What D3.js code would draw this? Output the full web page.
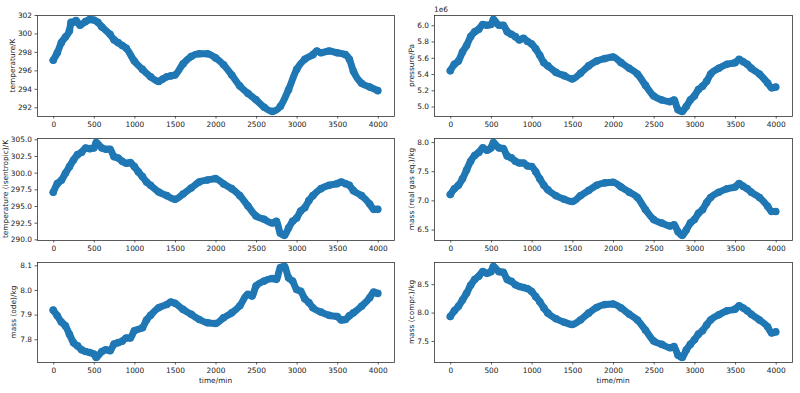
<!DOCTYPE html>
<html>
<head>
<meta charset="utf-8">
<script src="https://cdn.jsdelivr.net/npm/d3@7"></script>
<style>
  body { margin: 0; background: #fff; }
  svg { display: block; font-family: "DejaVu Sans", sans-serif; }
</style>
</head>
<body>
<svg id="fig" width="800" height="393"></svg>
<script>
// time axis (minutes) for each sampled series
var tTemp = [0,50,100,150,200,220,250,280,330,400,450,500,550,600,700,750,800,850,900,1000,1100,1200,1300,1350,1400,1450,1500,1600,1700,1800,1900,2000,2100,2200,2300,2400,2500,2600,2700,2800,2900,3000,3100,3200,3250,3300,3400,3500,3600,3650,3700,3800,3900,4000];
var temperature = [297.1,297.9,299.0,299.6,300.3,301.2,301.2,301.4,300.9,301.3,301.5,301.45,301.2,300.7,299.9,299.3,299.0,298.7,298.4,297.0,296.1,295.3,294.8,295.05,295.3,295.4,295.5,296.7,297.5,297.8,297.8,297.35,296.6,295.5,294.3,293.5,292.8,292.0,291.55,292.1,293.9,296.1,297.2,297.7,298.1,297.9,298.1,297.9,297.7,297.2,295.9,294.6,294.2,293.8];

var tMain = [0,50,100,150,200,250,300,350,400,450,500,530,600,650,700,750,800,850,900,950,1000,1050,1100,1150,1200,1300,1400,1500,1600,1700,1800,1900,2000,2100,2200,2300,2400,2500,2600,2700,2750,2800,2850,2900,2950,3000,3050,3100,3150,3200,3300,3400,3500,3550,3600,3650,3700,3800,3900,3950,4000];
var pressure = [5.44e6,5.52e6,5.56e6,5.67e6,5.75e6,5.86e6,5.92e6,5.95e6,6.01e6,6.0e6,6.01e6,6.07e6,6.0e6,6.0e6,5.92e6,5.89e6,5.86e6,5.82e6,5.84e6,5.8e6,5.77e6,5.71e6,5.63e6,5.54e6,5.5e6,5.42e6,5.38e6,5.34e6,5.41e6,5.5e6,5.56e6,5.59e6,5.61e6,5.54e6,5.47e6,5.4e6,5.26e6,5.13e6,5.08e6,5.06e6,5.08e6,4.96e6,4.94e6,5.0e6,5.08e6,5.13e6,5.21e6,5.25e6,5.31e6,5.4e6,5.47e6,5.52e6,5.54e6,5.58e6,5.55e6,5.52e6,5.47e6,5.4e6,5.29e6,5.23e6,5.24e6];
var tempIsentropic = [297.06,298.35,298.85,299.9,300.9,301.9,302.7,303.05,303.7,303.6,303.7,304.5,303.7,303.5,303.5,302.4,302.2,301.7,301.4,301.5,300.9,300.1,299.4,298.6,298.1,297.1,296.55,296.0,296.8,297.7,298.6,298.9,299.1,298.3,297.6,296.55,295.0,293.5,293.0,292.45,292.7,290.9,290.6,291.7,292.7,293.2,294.25,294.75,295.8,296.55,297.6,298.1,298.35,298.6,298.35,298.1,297.3,296.55,295.3,294.5,294.5];
var massRealGas = [7.1,7.2,7.26,7.37,7.52,7.67,7.77,7.82,7.9,7.86,7.9,7.99,7.9,7.89,7.76,7.73,7.67,7.64,7.64,7.59,7.58,7.49,7.37,7.26,7.18,7.08,7.02,6.98,7.08,7.17,7.26,7.3,7.31,7.23,7.14,7.05,6.84,6.67,6.61,6.56,6.58,6.46,6.4,6.49,6.61,6.67,6.78,6.84,6.96,7.05,7.14,7.2,7.23,7.29,7.24,7.2,7.14,7.05,6.9,6.81,6.81];
var massCompr = [7.93,8.03,8.11,8.22,8.34,8.48,8.58,8.64,8.72,8.69,8.72,8.81,8.72,8.71,8.58,8.55,8.49,8.46,8.44,8.42,8.37,8.28,8.19,8.08,7.99,7.89,7.83,7.79,7.87,7.99,8.09,8.14,8.15,8.08,7.97,7.87,7.69,7.5,7.44,7.38,7.4,7.25,7.21,7.34,7.44,7.52,7.62,7.68,7.78,7.87,7.96,8.03,8.06,8.12,8.08,8.03,7.97,7.87,7.75,7.64,7.66];

var tOde = [0,50,100,150,200,250,300,350,400,450,500,530,600,650,700,750,800,850,900,950,1000,1100,1150,1200,1300,1400,1450,1500,1600,1700,1800,1900,2000,2100,2200,2300,2400,2450,2500,2600,2700,2750,2800,2850,2900,2950,3000,3050,3100,3150,3200,3300,3400,3500,3550,3600,3650,3700,3800,3900,3950,4000];
var massOde = [7.918,7.895,7.87,7.854,7.82,7.786,7.773,7.757,7.75,7.746,7.74,7.726,7.75,7.757,7.753,7.78,7.786,7.792,7.805,7.805,7.834,7.847,7.878,7.897,7.928,7.941,7.951,7.946,7.921,7.901,7.88,7.867,7.864,7.887,7.907,7.936,7.982,7.975,8.016,8.036,8.046,8.043,8.091,8.095,8.05,8.036,8.002,7.995,7.964,7.949,7.928,7.91,7.897,7.892,7.878,7.88,7.895,7.907,7.934,7.968,7.991,7.986];

// tick labels
var xTicks = [0,500,1000,1500,2000,2500,3000,3500,4000];
var ticksTemp = [292,294,296,298,300,302];
var ticksPressure = [5.0e6,5.2e6,5.4e6,5.6e6,5.8e6,6.0e6];
var ticksIsentropic = [290,292.5,295,297.5,300,302.5,305];
var ticksRealGas = [6.5,7.0,7.5,8.0];
var ticksOde = [7.8,7.9,8.0,8.1];
var ticksCompr = [7.5,8.0,8.5];

var svg = d3.select("#fig");
var colL = [37, 394], colR = [434, 792];
var rows = [[15,116],[138,240],[262,362]];
var fontSize = 7.4;
var dotColor = "#1f77b4";

var panels = [
  {t: tTemp, y: temperature, ticks: ticksTemp, fmt: d3.format("d"), label: "temperature/K", col: colL, row: rows[0], lx: 12},
  {t: tMain, y: pressure, ticks: ticksPressure, fmt: function(d){ return (d/1e6).toFixed(1); }, label: "pressure/Pa", col: colR, row: rows[0], lx: 411, offset: "1e6"},
  {t: tMain, y: tempIsentropic, ticks: ticksIsentropic, fmt: d3.format(".1f"), label: "temperature (isentropic)/K", col: colL, row: rows[1], lx: 5},
  {t: tMain, y: massRealGas, ticks: ticksRealGas, fmt: d3.format(".1f"), label: "mass (real gas eq.)/kg", col: colR, row: rows[1], lx: 411},
  {t: tOde, y: massOde, ticks: ticksOde, fmt: d3.format(".1f"), label: "mass (ode)/kg", col: colL, row: rows[2], lx: 13, xlabel: true},
  {t: tMain, y: massCompr, ticks: ticksCompr, fmt: d3.format(".1f"), label: "mass (compr.)/kg", col: colR, row: rows[2], lx: 411, xlabel: true}
];

panels.forEach(function(p) {
  var x = d3.scaleLinear().domain([-200, 4200]).range(p.col);
  var ext = d3.extent(p.y);
  var pad = (ext[1] - ext[0]) * 0.05;
  var y = d3.scaleLinear().domain([ext[0] - pad, ext[1] + pad]).range([p.row[1], p.row[0]]);

  var g = svg.append("g");
  var clipId = "clip" + p.col[0] + "_" + p.row[0];
  g.append("clipPath").attr("id", clipId)
    .append("rect")
      .attr("x", p.col[0]).attr("y", p.row[0])
      .attr("width", p.col[1] - p.col[0]).attr("height", p.row[1] - p.row[0]);

  var pts = p.t.map(function(t, i) { return [t, p.y[i]]; });
  var plot = g.append("g").attr("clip-path", "url(#" + clipId + ")");
  //thick band to look like the dense scatter of the original
  plot.append("path")
    .datum(pts)
    .attr("d", d3.line().x(function(d){ return x(d[0]); }).y(function(d){ return y(d[1]); }).curve(d3.curveMonotoneX))
    .attr("fill", "none")
    .attr("stroke", dotColor)
    .attr("stroke-width", 7)
    .attr("stroke-linejoin", "round")
    .attr("stroke-linecap", "round");
  plot.selectAll("circle")
    .data(pts)
    .enter().append("circle")
      .attr("cx", function(d){ return x(d[0]); })
      .attr("cy", function(d){ return y(d[1]); })
      .attr("r", 3.8)
      .attr("fill", dotColor);

  // axes
  var xAxis = d3.axisBottom(x).tickValues(xTicks).tickFormat(d3.format("d")).tickSize(2.5).tickPadding(3).tickSizeOuter(0);
  var yAxis = d3.axisLeft(y).tickValues(p.ticks).tickFormat(p.fmt).tickSize(2.5).tickPadding(2.5).tickSizeOuter(0);
  var gx = g.append("g").attr("transform", "translate(0," + p.row[1] + ")").call(xAxis);
  var gy = g.append("g").attr("transform", "translate(" + p.col[0] + ",0)").call(yAxis);
  [gx, gy].forEach(function(a) {
    a.select(".domain").remove();
    a.selectAll("line").attr("stroke", "#333").attr("stroke-width", 0.8);
    a.selectAll("text").attr("font-size", fontSize).attr("fill", "#222").attr("font-family", "DejaVu Sans");
  });

  // frame
  g.append("rect")
    .attr("x", p.col[0] + 0.5).attr("y", p.row[0] + 0.5)
    .attr("width", p.col[1] - p.col[0]).attr("height", p.row[1] - p.row[0])
    .attr("fill", "none").attr("stroke", "#333").attr("stroke-width", 0.8);

  var midY = (p.row[0] + p.row[1]) / 2;
  g.append("text")
    .attr("transform", "translate(" + (p.lx + 2.5) + "," + midY + ") rotate(-90)")
    .attr("text-anchor", "middle")
    .attr("font-size", fontSize)
    .attr("fill", "#222")
    .text(p.label);

  if (p.offset) {
    g.append("text")
      .attr("x", p.col[0]).attr("y", p.row[0] - 3)
      .attr("font-size", fontSize).attr("fill", "#222")
      .text(p.offset);
  }
  if (p.xlabel) {
    g.append("text")
      .attr("x", (p.col[0] + p.col[1]) / 2).attr("y", 383)
      .attr("text-anchor", "middle")
      .attr("font-size", fontSize).attr("fill", "#222")
      .text("time/min");
  }
});
</script>
</body>
</html>
